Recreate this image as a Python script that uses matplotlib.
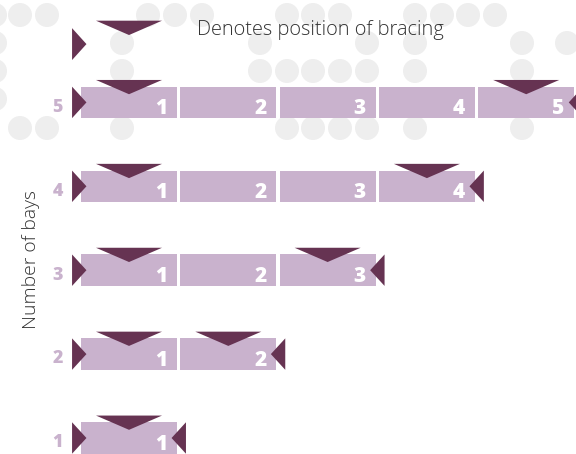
import matplotlib
matplotlib.use("Agg")
import matplotlib.pyplot as plt
from matplotlib.patches import Polygon, Circle
from matplotlib import font_manager as fm

# ---------------- data ----------------
bay_counts = [5, 4, 3, 2, 1]              # rows: number of bays
legend_text = "Denotes position of bracing"
y_label = "Number of bays"

# background dot pattern (decorative), pixel centres per row
dot_rows_y = [15, 43, 71, 99, 128]
dot_rows_x = [
    [-5, 20, 47, 148, 175, 202, 287, 313, 340, 415, 442, 468, 495],
    [-5, 122, 260, 367, 415, 522, 567],
    [-5, 122, 260, 287, 313, 340, 367, 415, 522],
    [-5],
    [20, 47, 122, 287, 313, 340, 367, 415, 522],
]

# ---------------- style ----------------
BAR = "#c9b2cd"
DARK = "#663352"
DOT = "#eeeeee"
LABEL = "#c9b2cd"
TEXT = "#333333"
FONT_LIGHT = "Open Sans"


def pick_font(names, want_weight):
    best = None
    for nm in names:
        cands = [f for f in fm.fontManager.ttflist
                 if f.name == nm and f.style == "normal"
                 and "italic" not in f.fname.lower()]
        for f in cands:
            w = f.weight if isinstance(f.weight, int) else fm.weight_dict.get(f.weight, 400)
            score = abs(w - want_weight)
            low = f.fname.lower()
            if "condensed" in low or "semicond" in low or "extracond" in low:
                score += 1000
            if best is None or score < best[0]:
                best = (score, f.fname)
        if best is not None and best[0] <= 100:
            return fm.FontProperties(fname=best[1])
    return fm.FontProperties(family="DejaVu Sans", weight="bold")


BOLD_FP = pick_font(["Open Sans", "Noto Sans", "Lato", "Roboto"], 800)

W, H, DPI = 576, 454, 100
fig = plt.figure(figsize=(W / DPI, H / DPI), dpi=DPI)

# background axes in pixel units
bg = fig.add_axes([0, 0, 1, 1])
bg.set_xlim(0, W)
bg.set_ylim(H, 0)
bg.axis("off")
for yy, xs in zip(dot_rows_y, dot_rows_x):
    for xx in xs:
        bg.add_patch(Circle((xx, yy), 12, color=DOT, lw=0))

# main axes: x in bay units, y in row units
ax = fig.add_axes([0, 0, 1, 1])
ax.patch.set_alpha(0)
pitch_px = 99.3
row_px = 83.9
ax.set_xlim(-81 / pitch_px, (W - 81) / pitch_px)
ax.set_ylim(1 - (H - 438) / row_px, 1 + 438 / row_px)
ax.axis("off")

bar_h = 0.375
bay_w = 0.967
tri_w = 0.665
tri_up = 0.08
tri_dn = 0.09
side_out = 0.09
side_in = 0.055


def down_tri(xc, top_of_bar):
    return Polygon([(xc - tri_w / 2, top_of_bar + tri_up),
                    (xc + tri_w / 2, top_of_bar + tri_up),
                    (xc, top_of_bar - tri_dn)], closed=True, color=DARK, lw=0, zorder=4)


for n in bay_counts:
    lefts = [i for i in range(n)]
    ax.barh([n] * n, [bay_w] * n, left=lefts, height=bar_h, color=BAR, lw=0, zorder=2)
    top = n + bar_h / 2
    bot = n - bar_h / 2
    # left end bracing marker
    ax.add_patch(Polygon([(-side_out, top), (-side_out, bot), (side_in, n)],
                         closed=True, color=DARK, lw=0, zorder=4))
    # right end bracing marker
    xr = (n - 1) + bay_w
    ax.add_patch(Polygon([(xr + side_out, top), (xr + side_out, bot), (xr - side_in, n)],
                         closed=True, color=DARK, lw=0, zorder=4))
    braced = sorted({1, n})
    for b in braced:
        ax.add_patch(down_tri(b - 1 + bay_w / 2, top))
    for i in range(n):
        ax.text(i + bay_w - 0.1, n - 0.138, str(i + 1), ha="right", va="baseline",
                fontproperties=BOLD_FP, fontsize=15, color="white", zorder=5)
    ax.text(-0.181, n - 0.111, str(n), ha="right", va="baseline",
            fontproperties=BOLD_FP, fontsize=12.8, color=LABEL, zorder=5)

# legend
ly = 5.803
ax.add_patch(Polygon([(-side_out, 5.885), (-side_out, 5.505), (side_in, 5.695)],
                     closed=True, color=DARK, lw=0, zorder=4))
ax.add_patch(Polygon([(bay_w / 2 - tri_w / 2, 5.974), (bay_w / 2 + tri_w / 2, 5.974),
                      (bay_w / 2, 5.803)], closed=True, color=DARK, lw=0, zorder=4))
ax.text((197 - 81) / pitch_px, ly, legend_text, ha="left", va="baseline",
        fontsize=14.4, fontweight="light", color=TEXT, family=FONT_LIGHT, zorder=5)

# y label
fig.text(31 / W, 1 - 260 / H, y_label, rotation=90, ha="center", va="center",
         fontsize=13.9, fontweight="light", color=TEXT, family=FONT_LIGHT)

fig.savefig("out.png", dpi=DPI)
